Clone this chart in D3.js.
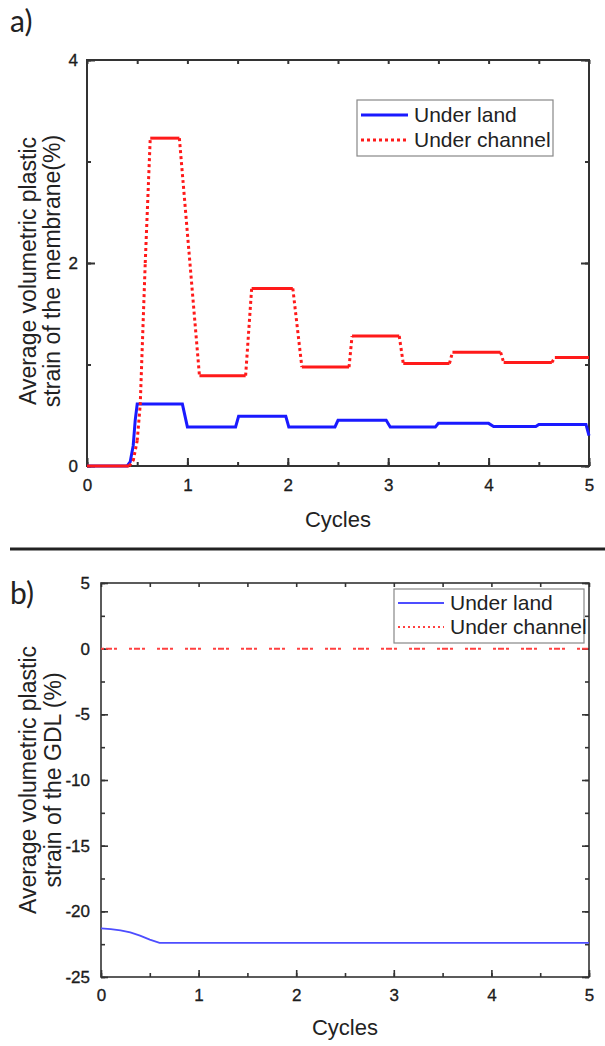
<!DOCTYPE html>
<html>
<head>
<meta charset="utf-8">
<script src="https://cdn.jsdelivr.net/npm/d3@7"></script>
<style>
body { margin: 0; background: #fff; }
svg { display: block; }
text { font-family: "Liberation Sans", Arial, sans-serif; fill: #222; }
</style>
</head>
<body>
<div id="chart"></div>
<script>
// panel a) membrane
var aLandX = [0, 0.4, 0.43, 0.46, 0.48, 0.5, 0.95, 1.0, 1.48, 1.51, 1.98, 2.01, 2.47, 2.5, 2.98, 3.02, 3.47, 3.5, 4.0, 4.05, 4.47, 4.5, 4.97, 5.0];
var aLandY = [0, 0, 0.04, 0.2, 0.45, 0.61, 0.61, 0.385, 0.385, 0.49, 0.49, 0.385, 0.385, 0.45, 0.45, 0.385, 0.385, 0.42, 0.42, 0.39, 0.39, 0.41, 0.41, 0.3];
var aChanX = [0, 0.42, 0.46, 0.5, 0.53, 0.58, 0.63, 0.92, 1.12, 1.58, 1.64, 2.05, 2.14, 2.61, 2.64, 3.11, 3.15, 3.61, 3.64, 4.12, 4.15, 4.63, 4.66, 5.0];
var aChanY = [0, 0, 0.05, 0.25, 0.6, 2.0, 3.23, 3.23, 0.89, 0.89, 1.75, 1.75, 0.975, 0.975, 1.28, 1.28, 1.01, 1.01, 1.12, 1.12, 1.02, 1.02, 1.07, 1.07];

// panel b) GDL
var bLandX = [0, 0.1, 0.2, 0.3, 0.4, 0.5, 0.6, 5.0];
var bLandY = [-21.3, -21.35, -21.45, -21.6, -21.85, -22.15, -22.4, -22.4];
var bChanX = [0, 5];
var bChanY = [0, 0];

var xTicks = [0, 1, 2, 3, 4, 5];
var aYTicks = [0, 2, 4];
var bYTicks = [5, 0, -5, -10, -15, -20, -25];
var seriesNames = ["Under land", "Under channel"];

var width = 605, height = 1046;
var svg = d3.select("#chart").append("svg")
	.attr("width", width)
	.attr("height", height);

function zip(xs, ys) {
	return xs.map(function(x, i) { return [x, ys[i]]; });
}

// plain hyphen minus like the original
var fmt = function(d) { return String(d); };

function drawPanel(o) {
	var x = d3.scaleLinear().domain([0, 5]).range([o.left, o.right]);
	var y = d3.scaleLinear().domain(o.yDomain).range([o.bottom, o.top]);
	var g = svg.append("g");

	// ticks, inward on all sides
	var xMinor = d3.range(0, 5.01, 0.5);
	var yMinor = d3.range(o.yDomain[0], o.yDomain[1] + 0.001, o.yMinorStep);
	g.append("g").attr("transform", "translate(0," + o.bottom + ")")
		.call(d3.axisBottom(x).tickValues(xMinor).tickSize(-o.minorLen).tickFormat(""));
	g.append("g").attr("transform", "translate(0," + o.bottom + ")")
		.call(d3.axisBottom(x).tickValues(xTicks).tickSize(-o.majorLen).tickPadding(o.xPad).tickFormat(fmt));
	g.append("g").attr("transform", "translate(0," + o.top + ")")
		.call(d3.axisTop(x).tickValues(xMinor).tickSize(-o.minorLen).tickFormat(""));
	g.append("g").attr("transform", "translate(" + o.left + ",0)")
		.call(d3.axisLeft(y).tickValues(yMinor).tickSize(-o.minorLen).tickFormat(""));
	g.append("g").attr("transform", "translate(" + o.left + ",0)")
		.call(d3.axisLeft(y).tickValues(o.yTicks).tickSize(-o.majorLen).tickPadding(o.yPad).tickFormat(fmt));
	g.append("g").attr("transform", "translate(" + o.right + ",0)")
		.call(d3.axisRight(y).tickValues(yMinor).tickSize(-o.minorLen).tickFormat(""));
	g.append("g").attr("transform", "translate(" + o.right + ",0)")
		.call(d3.axisRight(y).tickValues(o.yTicks).tickSize(-o.majorLen).tickFormat(""));

	g.selectAll(".domain").remove();
	g.selectAll(".tick line").attr("stroke", "#333").attr("stroke-width", o.axisW);
	g.selectAll(".tick text").style("font-size", "17px").style("font-family", "'Liberation Sans', Arial, sans-serif")
		.attr("fill", "#111").attr("stroke", "#111").attr("stroke-width", 0.3);

	g.append("rect")
		.attr("x", o.left).attr("y", o.top)
		.attr("width", o.right - o.left).attr("height", o.bottom - o.top)
		.attr("fill", "none").attr("stroke", "#333").attr("stroke-width", o.axisW);

	// lines
	var line = d3.line().x(function(d) { return x(d[0]); }).y(function(d) { return y(d[1]); });
	o.series.forEach(function(s) {
		var pts = zip(s.xs, s.ys);
		if (s.segDash) {
			for (var i = 1; i < pts.length; i++) {
				var steep = Math.abs(pts[i][1] - pts[i-1][1]) > 0.02;
				g.append("path").datum([pts[i-1], pts[i]])
					.attr("d", line)
					.attr("fill", "none")
					.attr("stroke", s.color)
					.attr("stroke-width", s.width)
					.attr("stroke-dasharray", steep ? s.dash : null);
			}
		} else {
			g.append("path").datum(pts)
				.attr("d", line)
				.attr("fill", "none")
				.attr("stroke", s.color)
				.attr("stroke-width", s.width)
				.attr("stroke-dasharray", s.dash);
		}
	});

	// legend
	var L = o.legend;
	g.append("rect").attr("x", L.x).attr("y", L.y).attr("width", L.w).attr("height", L.h)
		.attr("fill", "#fff").attr("stroke", "#888").attr("stroke-width", 1.2);
	o.series.forEach(function(s, i) {
		var ly = L.y + L.row0 + i * L.rowH;
		g.append("line").attr("x1", L.x + 4).attr("x2", L.x + 4 + L.sample)
			.attr("y1", ly).attr("y2", ly)
			.attr("stroke", s.color).attr("stroke-width", s.width)
			.attr("stroke-dasharray", s.legendDash);
		g.append("text").attr("x", L.x + L.sample + 10).attr("y", ly)
			.attr("dy", "0.35em").style("font-size", "21px").text(seriesNames[i]);
	});

	// axis titles
	g.append("text").attr("x", (o.left + o.right) / 2).attr("y", o.xTitleY)
		.attr("text-anchor", "middle").style("font-size", "22px").text("Cycles");
	var cy = (o.top + o.bottom) / 2 + o.yTitleShift;
	o.yTitle.forEach(function(t, i) {
		g.append("text")
			.attr("transform", "translate(" + o.yTitleX[i] + "," + cy + ") rotate(-90)")
			.attr("text-anchor", "middle").attr("dy", "0.35em")
			.style("font-size", "23px").text(t);
	});

	g.append("text").attr("x", 10).attr("y", o.tagY)
		.style("font-family", "Lato, 'Open Sans', sans-serif").style("font-size", "30px")
		.attr("fill", "#111").text(o.tag);
}

drawPanel({
	left: 87, right: 589, top: 60, bottom: 466,
	yDomain: [0, 4], yTicks: aYTicks, yMinorStep: 1,
	majorLen: 8, minorLen: 4, axisW: 2, xPad: 13, yPad: 9,
	series: [
		{ xs: aLandX, ys: aLandY, color: "#1a1aff", width: 3, dash: null, legendDash: null },
		{ xs: aChanX, ys: aChanY, color: "#ff1a1a", width: 3, dash: "3,3", legendDash: "3,3", segDash: true }
	],
	legend: { x: 357, y: 100, w: 196, h: 56, row0: 15, rowH: 25, sample: 47 },
	xTitleY: 527, yTitle: ["Average volumetric plastic", "strain of the membrane(%)"],
	yTitleX: [28, 52], yTitleShift: 8,
	tag: "a)", tagY: 32
});

// separator
svg.append("line").attr("x1", 10).attr("x2", 605).attr("y1", 549).attr("y2", 549)
	.attr("stroke", "#222").attr("stroke-width", 3);

drawPanel({
	left: 101, right: 589, top: 583, bottom: 977,
	yDomain: [-25, 5], yTicks: bYTicks, yMinorStep: 2.5,
	majorLen: 7, minorLen: 4, axisW: 1.6, xPad: 12, yPad: 11,
	series: [
		{ xs: bLandX, ys: bLandY, color: "#4d4dff", width: 1.8, dash: null, legendDash: null },
		{ xs: bChanX, ys: bChanY, color: "#ff4040", width: 2, dash: "3,2,6,2,3,12", legendDash: "2,3" }
	],
	legend: { x: 394, y: 589, w: 190, h: 54, row0: 14, rowH: 24, sample: 46 },
	xTitleY: 1035, yTitle: ["Average volumetric plastic", "strain of the GDL (%)"],
	yTitleX: [28, 53], yTitleShift: 0,
	tag: "b)", tagY: 604
});
</script>
</body>
</html>
